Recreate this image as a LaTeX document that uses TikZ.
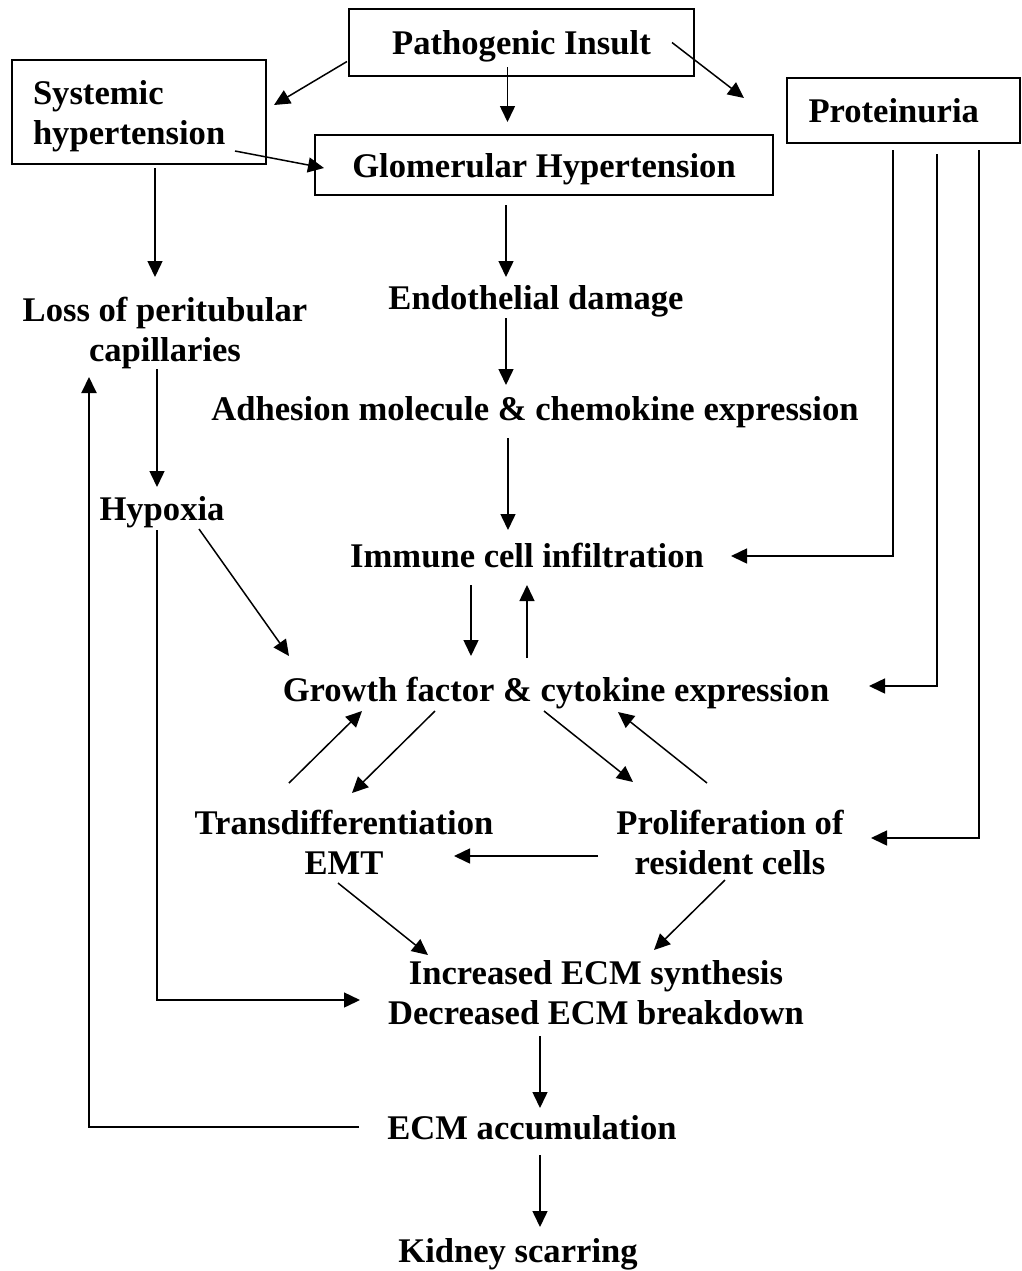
\documentclass[tikz,border=0pt]{standalone}
\usepackage{fontspec}
\setmainfont{Liberation Serif}
\usetikzlibrary{arrows.meta,calc}

\begin{document}
\begin{tikzpicture}[x=0.5pt,y=-0.5pt]
    \tikzstyle{boxed} = [rectangle, draw, line width=1pt, inner sep=0pt, text depth=0pt, font=\bfseries\fontsize{17.3}{20}\selectfont]
    \tikzstyle{txt} = [inner sep=0pt, align=center, text depth=0pt, font=\bfseries\fontsize{17.3}{20}\selectfont]
    \tikzstyle{arr} = [line width=0.75pt, -{Triangle[length=8pt, width=7.5pt]}]

    \useasboundingbox (0,0) rectangle (1022,1271);

    % Boxed causes
    \node[boxed, minimum width=172.5pt, minimum height=33.5pt] (ins) at (521.5,42.5) {Pathogenic Insult};
    \node[boxed, minimum height=52pt, text width=106pt, text depth=20pt, inner xsep=10.5pt, align=left] (sys) at (139,112) {Systemic\\hypertension};
    \node[boxed, minimum width=229pt, minimum height=30pt] (glom) at (544,165) {Glomerular Hypertension};
    \node[boxed, minimum height=32.5pt, text width=94.5pt, inner xsep=11pt, align=left] (prot) at (903,110.5) {Proteinuria};

    % Plain stages
    \node[txt] (loss) at (165,329) {Loss of peritubular\\capillaries};
    \node[txt] (endo) at (536,297) {Endothelial damage};
    \node[txt] (adh) at (535,408) {Adhesion molecule \& chemokine expression};
    \node[txt] (imm) at (527,555) {Immune cell infiltration};
    \node[txt] (hyp) at (162,508) {Hypoxia};
    \node[txt] (gro) at (556,689) {Growth factor \& cytokine expression};
    \node[txt] (trans) at (344,842) {Transdifferentiation\\EMT};
    \node[txt] (prol) at (730,842) {Proliferation of\\resident cells};
    \node[txt] (ecm) at (596,992) {Increased ECM synthesis\\Decreased ECM breakdown};
    \node[txt] (acc) at (532,1127) {ECM accumulation};
    \node[txt] (kid) at (518,1250) {Kidney scarring};

    % Top arrows
    \draw[arr] ($(ins)+(-174.5,19)$) -- ($(sys)+(135,-7)$);
    \draw[arr] ($(ins)+(-14,24.5)$) -- ($(glom)+(-36.5,-43)$);
    \draw[arr] ($(ins)+(150.5,0)$) -- ($(prot)+(-159,-12.5)$);
    \draw[arr] ($(sys)+(96,39)$) -- ($(glom)+(-220,3)$);
    \draw[arr] ($(sys)+(16,56)$) -- ($(loss)+(-10,-52)$);

    % Central column
    \draw[arr] ($(glom)+(-38,40)$) -- ($(endo)+(-30,-20)$);
    \draw[arr] ($(endo)+(-30,21)$) -- ($(adh)+(-29,-23)$);
    \draw[arr] ($(adh)+(-27,30)$) -- ($(imm)+(-19,-25)$);
    \draw[arr] ($(imm)+(-56,30)$) -- ($(gro)+(-85,-33)$);
    \draw[arr] ($(gro)+(-29,-31)$) -- ($(imm)+(0,30)$);

    % Left column
    \draw[arr] ($(loss)+(-8,40)$) -- ($(hyp)+(-5,-21)$);
    \draw[arr] ($(hyp)+(37,21)$) -- ($(gro)+(-267,-33)$);
    \draw[arr] ($(hyp)+(-5,22)$) |- ($(ecm)+(-236,8)$);

    % Growth factor loop
    \draw[arr] ($(gro)+(-121,22)$) -- ($(trans)+(8,-49)$);
    \draw[arr] ($(trans)+(-55,-59)$) -- ($(gro)+(-194,22)$);
    \draw[arr] ($(gro)+(-12,22)$) -- ($(prol)+(-97,-60)$);
    \draw[arr] ($(prol)+(-23,-59)$) -- ($(gro)+(62,23)$);
    \draw[arr] ($(prol)+(-132,14)$) -- ($(trans)+(110,14)$);
    \draw[arr] ($(trans)+(-6,41)$) -- ($(ecm)+(-168,-37)$);
    \draw[arr] ($(prol)+(-5,38)$) -- ($(ecm)+(58,-42)$);

    % Bottom column
    \draw[arr] ($(ecm)+(-56,44)$) -- ($(acc)+(8,-19)$);
    \draw[arr] ($(acc)+(8,28)$) -- ($(kid)+(22,-23)$);
    \draw[arr, line width=1pt] ($(acc)+(-173,0)$) -| ($(loss)+(-76,48)$);

    % Proteinuria lines
    \draw[arr] ($(prot)+(-10,39.5)$) |- ($(imm)+(204,1)$);
    \draw[arr] ($(prot)+(34,43.5)$) |- ($(gro)+(313,-3)$);
    \draw[arr] ($(prot)+(76,39.5)$) |- ($(prol)+(141,-4)$);
\end{tikzpicture}
\end{document}
